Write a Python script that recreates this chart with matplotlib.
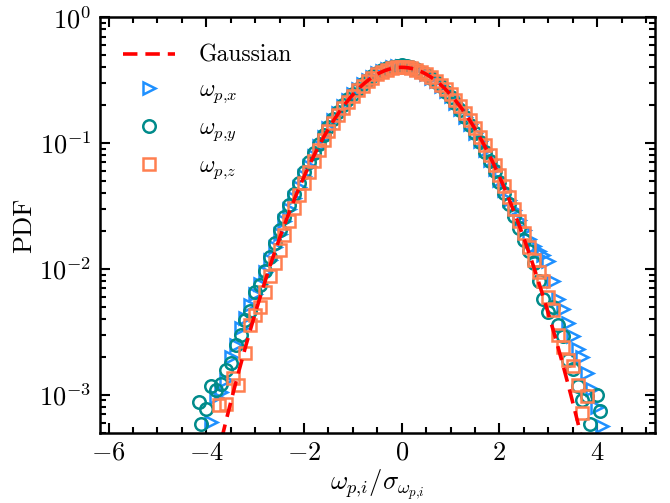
import numpy as np
import matplotlib
matplotlib.use("Agg")
import matplotlib.pyplot as plt
from matplotlib.ticker import MultipleLocator, LogLocator, NullFormatter

plt.rcParams["font.family"] = "serif"
plt.rcParams["font.serif"] = ["cmr10", "DejaVu Serif"]
plt.rcParams["mathtext.fontset"] = "cm"
plt.rcParams["axes.formatter.use_mathtext"] = True
plt.rcParams["axes.unicode_minus"] = True

# Normalised vorticity PDFs, x component
wx_x = [-3.9, -3.8, -3.7, -3.6, -3.5, -3.4, -3.3, -3.2, -3.1, -3.0,
        -2.9, -2.8, -2.7, -2.6, -2.5, -2.4, -2.3, -2.2, -2.1, -2.0,
        -1.9, -1.8, -1.7, -1.6, -1.5, -1.4, -1.3, -1.2, -1.1, -1.0,
        -0.9, -0.8, -0.7, -0.6, -0.5, -0.4, -0.3, -0.2, -0.1, 0.0,
        0.1, 0.2, 0.3, 0.4, 0.5, 0.6, 0.7, 0.8, 0.9, 1.0,
        1.1, 1.2, 1.3, 1.4, 1.5, 1.6, 1.7, 1.8, 1.9, 2.0,
        2.1, 2.2, 2.3, 2.4, 2.5, 2.6, 2.7, 2.8, 2.9, 3.0,
        3.1, 3.2, 3.3, 3.4, 3.5, 3.6, 3.7, 3.8, 3.9, 4.0, 4.1]
wx_pdf = [6.1e-4, 9.5e-4, 1.05e-3, 1.3e-3, 2.0e-3, 2.5e-3, 3.4e-3, 4.1e-3, 5.2e-3, 6.3e-3,
          7.6e-3, 9.4e-3, 0.0118, 0.0150, 0.0190, 0.0238, 0.0298, 0.0365, 0.0450, 0.0548,
          0.0660, 0.0795, 0.0945, 0.111, 0.131, 0.152, 0.173, 0.196, 0.219, 0.243,
          0.268, 0.292, 0.315, 0.337, 0.357, 0.374, 0.388, 0.399, 0.406, 0.410,
          0.406, 0.398, 0.386, 0.370, 0.352, 0.331, 0.308, 0.284, 0.259, 0.234,
          0.209, 0.185, 0.162, 0.141, 0.121, 0.103, 0.0875, 0.0738, 0.0618, 0.0512,
          0.0425, 0.0352, 0.0292, 0.0245, 0.0205, 0.0172, 0.0152, 0.0138, 0.0128, 0.0115,
          0.0080, 0.0058, 0.0048, 0.0037, 0.0029, 0.0023, 0.0020, 0.0015, 0.0011, 8.0e-4, 5.6e-4]

# y component
wy_x = [-4.15, -4.1, -4.0, -3.9, -3.8, -3.7, -3.6, -3.5, -3.4, -3.3,
        -3.2, -3.1, -3.0, -2.9, -2.8, -2.7, -2.6, -2.5, -2.4, -2.3,
        -2.2, -2.1, -2.0, -1.9, -1.8, -1.7, -1.6, -1.5, -1.4, -1.3,
        -1.2, -1.1, -1.0, -0.9, -0.8, -0.7, -0.6, -0.5, -0.4, -0.3,
        -0.2, -0.1, 0.0, 0.1, 0.2, 0.3, 0.4, 0.5, 0.6, 0.7,
        0.8, 0.9, 1.0, 1.1, 1.2, 1.3, 1.4, 1.5, 1.6, 1.7,
        1.8, 1.9, 2.0, 2.1, 2.2, 2.3, 2.4, 2.5, 2.6, 2.7,
        2.8, 2.9, 3.0, 3.1, 3.2, 3.3, 3.4, 3.5, 3.6, 3.7,
        3.8, 3.85, 4.0, 4.05]
wy_pdf = [8.7e-4, 5.9e-4, 7.7e-4, 1.17e-3, 1.08e-3, 1.22e-3, 1.58e-3, 1.80e-3, 2.5e-3, 3.0e-3,
          3.9e-3, 4.6e-3, 6.6e-3, 7.4e-3, 9.6e-3, 0.0124, 0.0160, 0.0205, 0.0258, 0.0320,
          0.0395, 0.0480, 0.0585, 0.0700, 0.0835, 0.0985, 0.115, 0.134, 0.155, 0.176,
          0.199, 0.222, 0.246, 0.270, 0.294, 0.317, 0.339, 0.359, 0.377, 0.392,
          0.404, 0.412, 0.415, 0.410, 0.400, 0.386, 0.369, 0.350, 0.328, 0.305,
          0.281, 0.256, 0.231, 0.207, 0.183, 0.160, 0.139, 0.119, 0.101, 0.0855,
          0.0718, 0.0598, 0.0492, 0.0402, 0.0327, 0.0262, 0.0210, 0.0168, 0.0138, 0.0112,
          0.0080, 0.0058, 0.0045, 0.0050, 0.0036, 0.0029, 0.0019, 0.0016, 0.00117, 9.0e-4,
          9.7e-4, 5.8e-4, 1.0e-3, 7.4e-4]

# z component
wz_x = [-3.75, -3.6, -3.45, -3.35, -3.2, -3.1, -3.0, -2.9, -2.8, -2.7,
        -2.6, -2.5, -2.4, -2.3, -2.2, -2.1, -2.0, -1.9, -1.8, -1.7,
        -1.6, -1.5, -1.4, -1.3, -1.2, -1.1, -1.0, -0.9, -0.8, -0.7,
        -0.6, -0.5, -0.4, -0.3, -0.2, -0.1, 0.0, 0.1, 0.2, 0.3,
        0.4, 0.5, 0.6, 0.7, 0.8, 0.9, 1.0, 1.1, 1.2, 1.3,
        1.4, 1.5, 1.6, 1.7, 1.8, 1.9, 2.0, 2.1, 2.2, 2.3,
        2.4, 2.5, 2.6, 2.7, 2.8, 2.9, 3.0, 3.1, 3.2, 3.3,
        3.4, 3.5, 3.6, 3.7, 3.8]
wz_pdf = [8.3e-4, 8.5e-4, 1.36e-3, 1.2e-3, 2.15e-3, 3.6e-3, 4.3e-3, 5.0e-3, 6.6e-3, 8.7e-3,
          0.0112, 0.0140, 0.0185, 0.0240, 0.0305, 0.0385, 0.0480, 0.0590, 0.0725, 0.0880,
          0.105, 0.124, 0.145, 0.166, 0.189, 0.213, 0.237, 0.262, 0.286, 0.309,
          0.330, 0.350, 0.367, 0.381, 0.392, 0.398, 0.400, 0.398, 0.392, 0.382,
          0.369, 0.353, 0.334, 0.313, 0.291, 0.267, 0.243, 0.219, 0.195, 0.172,
          0.151, 0.131, 0.112, 0.0955, 0.0805, 0.0672, 0.0558, 0.0458, 0.0372, 0.0300,
          0.0240, 0.0192, 0.0150, 0.0117, 0.0095, 0.0080, 0.0060, 0.0047, 0.0030, 0.0024,
          0.0019, 0.0017, 0.0012, 7.2e-4, 9.7e-4]

# Standard normal reference curve
gx = np.linspace(-4.5, 4.5, 400)
gy = np.exp(-gx ** 2 / 2) / np.sqrt(2 * np.pi)

fig = plt.figure(figsize=(6.7, 5.03), dpi=100)
ax = fig.add_axes([0.149, 0.140, 0.829, 0.826])

mk = dict(linestyle="none", markerfacecolor="none", markersize=9, markeredgewidth=1.8)
ax.plot(wx_x, wx_pdf, marker=">", color="#1E90FF", label=r"$\omega_{p{,}x}$", **mk)
ax.plot(wy_x, wy_pdf, marker="o", color="#008B8B", label=r"$\omega_{p{,}y}$", **mk)
ax.plot(wz_x, wz_pdf, marker="s", color="#FF7F50", label=r"$\omega_{p{,}z}$", **mk)
ax.plot(gx, gy, color="red", linestyle=(0, (4, 2.2)), linewidth=2.6, label="Gaussian")

ax.set_yscale("log")
ax.set_xlim(-6.18, 5.19)
ax.set_ylim(5e-4, 1.0)

ax.xaxis.set_major_locator(MultipleLocator(2))
ax.xaxis.set_minor_locator(MultipleLocator(0.5))
ax.yaxis.set_major_locator(LogLocator(base=10, numticks=10))
ax.yaxis.set_minor_locator(LogLocator(base=10, subs=np.arange(2, 10), numticks=20))
ax.yaxis.set_minor_formatter(NullFormatter())

ax.tick_params(which="both", direction="in", top=True, right=True, labelsize=19, width=1.5)
ax.tick_params(which="major", length=7, pad=6)
ax.tick_params(which="minor", length=4)
for s in ax.spines.values():
    s.set_linewidth(1.8)

ax.set_xlabel(r"$\omega_{p{,}i}/\sigma_{\omega_{p{,}i}}$", fontsize=19, labelpad=2)
ax.set_ylabel("PDF", fontsize=19, labelpad=2)

h, l = ax.get_legend_handles_labels()
order = [3, 0, 1, 2]
ax.legend([h[i] for i in order], [l[i] for i in order], loc="upper left",
          frameon=False, fontsize=17, handlelength=2.2, labelspacing=0.5,
          handletextpad=1.0, borderaxespad=0.6, bbox_to_anchor=(0.0, 0.99))

fig.savefig("out.png", dpi=100)
